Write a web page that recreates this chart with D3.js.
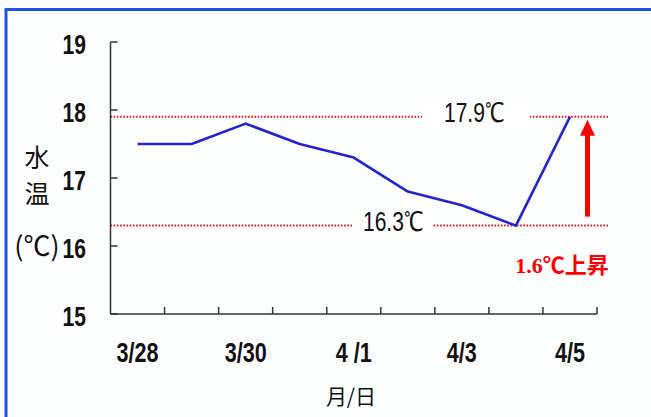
<!DOCTYPE html>
<html lang="ja">
<head>
<meta charset="utf-8">
<title>水温</title>
<script src="https://d3js.org/d3.v7.min.js"></script>
<style>
  body { margin: 0; background: #fff; }
  svg { display: block; }
  .narrow { font-family: "Liberation Sans", Arial, sans-serif; }
  .cjk { font-family: "Noto Sans CJK JP", sans-serif; }
</style>
</head>
<body>
<div id="chart"></div>
<script>
// data
const dates = ["3/28", "3/29", "3/30", "3/31", "4/1", "4/2", "4/3", "4/4", "4/5"];
const temps = [17.5, 17.5, 17.8, 17.5, 17.3, 16.8, 16.6, 16.3, 17.9];
const xLabels = ["3/28", "", "3/30", "", "4 /1", "", "4/3", "", "4/5"];
const yTicks = [15, 16, 17, 18, 19];
const refValues = [17.9, 16.3];
const refLabels = ["17.9℃", "16.3℃"];
const riseLabel = "1.6℃上昇";

const W = 651, H = 417;
const margin = {top: 42, right: 54, bottom: 103, left: 110.5};
const squeeze = 0.78; // fake a narrow font

const svg = d3.select("#chart").append("svg")
    .attr("width", W)
    .attr("height", H);

// blue frame (top + left)
svg.append("rect").attr("x", 0).attr("y", 0).attr("width", W).attr("height", H).attr("fill", "#fdfefe");
svg.append("line").attr("x1", 5).attr("x2", W).attr("y1", 9.5).attr("y2", 9.5)
    .attr("stroke", "#1f52e6").attr("stroke-width", 3);
svg.append("line").attr("x1", 6).attr("x2", 6).attr("y1", 8).attr("y2", H)
    .attr("stroke", "#1f52e6").attr("stroke-width", 3);

const x = d3.scaleBand()
    .domain(dates)
    .range([margin.left, W - margin.right])
    .padding(0);

const y = d3.scaleLinear()
    .domain([15, 19])
    .range([H - margin.bottom, margin.top]);

const xc = d => x(d) + x.bandwidth() / 2;

// reference lines (red dotted)
const refG = svg.append("g");
refValues.forEach(function(v, i) {
  refG.append("line")
      .attr("x1", margin.left).attr("x2", 608)
      .attr("y1", y(v)).attr("y2", y(v))
      .attr("stroke", "#e8141e")
      .attr("stroke-width", 2)
      .attr("stroke-dasharray", "1.6,1.6");
});

// data line
svg.append("path")
    .datum(temps)
    .attr("fill", "none")
    .attr("stroke", "#2323cf")
    .attr("stroke-width", 2.6)
    .attr("stroke-linejoin", "round")
    .attr("d", d3.line()
      .x((d, i) => xc(dates[i]))
      .y(d => y(d)));

// reference labels with white box
const labelBox = [[422, 530, 474], [352, 432, 393]];
refValues.forEach(function(v, i) {
  svg.append("rect")
      .attr("x", labelBox[i][0]).attr("y", y(v) - 12)
      .attr("width", labelBox[i][1] - labelBox[i][0]).attr("height", 22)
      .attr("fill", "#fff");
  svg.append("text")
      .attr("class", "narrow")
      .attr("transform", `translate(${labelBox[i][2]},${y(v) + 5}) scale(${squeeze},1)`)
      .attr("text-anchor", "middle")
      .style("font-size", "27px")
      .attr("fill", "#111")
      .text(refLabels[i]);
});

// axes
const axisG = svg.append("g").attr("stroke", "#333").attr("stroke-width", 1.5);
axisG.append("line")
    .attr("x1", margin.left).attr("x2", margin.left)
    .attr("y1", y(19)).attr("y2", y(15));
axisG.append("line")
    .attr("x1", margin.left).attr("x2", W - margin.right)
    .attr("y1", y(15)).attr("y2", y(15));
axisG.selectAll(".yt").data(yTicks).enter().append("line")
    .attr("x1", margin.left).attr("x2", margin.left + 7)
    .attr("y1", d => y(d)).attr("y2", d => y(d));
axisG.selectAll(".xt").data(dates).enter().append("line")
    .attr("x1", d => x(d) + x.bandwidth()).attr("x2", d => x(d) + x.bandwidth())
    .attr("y1", y(15)).attr("y2", y(15) - 7);

svg.selectAll(".ylab").data(yTicks).enter().append("text")
    .attr("class", "narrow")
    .attr("transform", d => `translate(86,${y(d) + 12}) scale(${squeeze},1)`)
    .attr("text-anchor", "end")
    .style("font-size", "27px").style("font-weight", "bold")
    .attr("fill", "#111")
    .text(d => d);

svg.selectAll(".xlab").data(dates).enter().append("text")
    .attr("class", "narrow")
    .attr("transform", d => `translate(${xc(d)},362) scale(0.8,1)`)
    .attr("text-anchor", "middle")
    .style("font-size", "27px").style("font-weight", "bold")
    .attr("fill", "#111")
    .text((d, i) => xLabels[i]);

// axis titles
svg.append("text").attr("class", "cjk")
    .attr("x", 351).attr("y", 404)
    .attr("text-anchor", "middle")
    .style("font-size", "21px").attr("fill", "#111")
    .text("月/日");
const yTitle = ["水", "温", "(℃)"];
const yTitleY = [167, 203, 256];
const yTitleSize = [25, 25, 27];
yTitle.forEach(function(t, i) {
  svg.append("text").attr("class", "cjk")
      .attr("x", 37).attr("y", yTitleY[i])
      .attr("text-anchor", "middle")
      .style("font-size", yTitleSize[i] + "px").attr("fill", "#111")
      .text(t);
});

// red arrow + rise label
svg.append("line")
    .attr("x1", 587.5).attr("x2", 587.5)
    .attr("y1", y(16.3) - 9).attr("y2", y(17.9) + 16)
    .attr("stroke", "#ff0000").attr("stroke-width", 5);
svg.append("path")
    .attr("d", `M580,${y(17.9) + 19} L587.5,${y(17.9) + 3} L595,${y(17.9) + 19} Z`)
    .attr("fill", "#ff0000");
svg.append("text")
    .attr("x", 562).attr("y", 273)
    .attr("text-anchor", "middle")
    .style("font-family", "'Liberation Serif', 'Noto Sans CJK JP', serif")
    .style("font-size", "22px").style("font-weight", "bold")
    .attr("fill", "#ff0000")
    .text(riseLabel);
</script>
</body>
</html>
